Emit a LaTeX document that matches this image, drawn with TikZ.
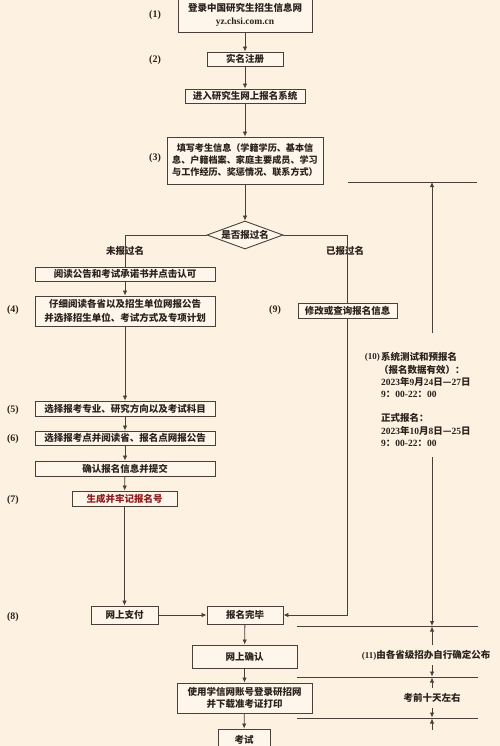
\documentclass[tikz,border=0pt]{standalone}
\usepackage{fontspec}
\setmainfont{Liberation Serif}
\newfontfamily\cjk{Noto Sans CJK SC}
\usetikzlibrary{arrows.meta,shapes.geometric}
\definecolor{bg}{HTML}{FDF2E2}
\definecolor{boxbg}{HTML}{FEF6EA}
\definecolor{ln}{HTML}{4A4038}
\definecolor{tx}{HTML}{2A221C}
\definecolor{rd}{HTML}{8E1B1B}
\newcommand\rmx[1]{{\rmfamily #1}}
\tikzset{
 box/.style={draw=ln, line width=0.9pt, fill=boxbg, inner sep=0pt, text=tx,
   font=\cjk\bfseries\fontsize{9.5}{12.5}\selectfont, align=center},
 conn/.style={draw=ln, line width=0.8pt},
 arr/.style={conn, -{Latex[length=5pt,width=4.5pt]}},
 lbl/.style={font=\bfseries\fontsize{10}{12}\selectfont, text=tx, inner sep=0pt},
 zh/.style={font=\cjk\bfseries\fontsize{9.5}{12}\selectfont, text=tx, inner sep=0pt},
}
\begin{document}
\begin{tikzpicture}[x=1pt,y=-1pt]
\fill[bg] (0,0) rectangle (500,746);
\useasboundingbox (0,0) rectangle (500,746);

% main column
\node[box, minimum width=134, minimum height=34] (b1) at (245,15) {登录中国研究生招生信息网\\\rmx{yz.chsi.com.cn}};
\node[box, minimum width=76, minimum height=14] (b2) at (245,59) {实名注册};
\node[box, minimum width=120, minimum height=14] (b3) at (245,96) {进入研究生网上报名系统};
\node[box, minimum width=156, minimum height=47, font=\cjk\bfseries\fontsize{9.1}{12}\selectfont] (b4) at (245,160.5) {填写考生信息（学籍学历、基本信\\息、户籍档案、家庭主要成员、学习\\与工作经历、奖惩情况、联系方式）};
\node[box, shape=diamond, minimum width=76, minimum height=28, shape aspect=2.7] (dia) at (245,235) {是否报过名};

\node[zh] (nl) at (125,251) {未报过名};
\node[zh] (yl) at (345,251) {已报过名};

\node[box, minimum width=180, minimum height=14] (b5) at (125,274) {阅读公告和考试承诺书并点击认可};
\node[box, minimum width=180, minimum height=30, font=\cjk\bfseries\fontsize{9.5}{14}\selectfont] (b6) at (125,311) {仔细阅读各省以及招生单位网报公告\\并选择招生单位、考试方式及专项计划};
\node[box, minimum width=99, minimum height=15] (b9) at (347.5,310.5) {修改或查询报名信息};
\node[box, minimum width=180, minimum height=15] (b7) at (125,408.5) {选择报考专业、研究方向以及考试科目};
\node[box, minimum width=180, minimum height=14] (b8) at (125,438) {选择报考点并阅读省、报名点网报公告};
\node[box, minimum width=180, minimum height=15] (bc) at (125,468.5) {确认报名信息并提交};
\node[box, minimum width=105, minimum height=15, text=rd] (b10) at (124.5,498.5) {生成并牢记报名号};
\node[box, minimum width=67, minimum height=18] (pay) at (124.5,615) {网上支付};
\node[box, minimum width=76, minimum height=18] (done) at (245,615) {报名完毕};
\node[box, minimum width=105, minimum height=23] (conf) at (244.5,656.5) {网上确认};
\node[box, minimum width=135, minimum height=30] (prt) at (244.5,698) {使用学信网账号登录研招网\\并下载准考证打印};
\node[box, minimum width=52, minimum height=22] (exam) at (244,740) {考试};

% step labels
\node[lbl] (l1) at (155,15) {(1)};
\node[lbl] (l2) at (155,60) {(2)};
\node[lbl] (l3) at (155,158) {(3)};
\node[lbl] (l4) at (13,310) {(4)};
\node[lbl] (l5) at (13,410) {(5)};
\node[lbl] (l6) at (13,439) {(6)};
\node[lbl] (l7) at (13,500) {(7)};
\node[lbl] (l8) at (13,617) {(8)};
\node[lbl] (l9) at (275,310) {(9)};

% connectors
\draw[arr] (b1) -- (b2);
\draw[arr] (b2) -- (b3);
\draw[arr] (b3) -- (b4);
\draw[arr] (b4) -- (dia);
\draw[conn] (dia.west) -| (b5.north);
\draw[conn] (dia.east) -| (b9.north);
\draw[arr] (b9.south) |- (done.east);
\draw[arr] (b5) -- (b6);
\draw[arr] (b6) -- (b7);
\draw[arr] (b7) -- (b8);
\draw[arr] (b8) -- (bc);
\draw[arr] (bc) -- (b10);
\draw[arr] (b10) -- (pay);
\draw[arr] (pay) -- (done);
\draw[arr] (done) -- (conf);
\draw[arr] (conf) -- (prt);
\draw[arr] (prt) -- (exam);

% timeline
\coordinate (h0a) at (348,182); \coordinate (h0b) at (477,182);
\coordinate (h1a) at (297,626); \coordinate (h1b) at (478,626);
\coordinate (h2a) at (297,677); \coordinate (h2b) at (478,677);
\coordinate (h3a) at (297,718); \coordinate (h3b) at (478,718);
\draw[conn] (h0a) -- (h0b);
\draw[conn] (h1a) -- (h1b);
\draw[conn] (h2a) -- (h2b);
\draw[conn] (h3a) -- (h3b);
\coordinate (t0) at (432,182); \coordinate (t1) at (432,333);
\coordinate (t2) at (432,457); \coordinate (t3) at (432,626);
\draw[arr] (t1) -- (t0);
\draw[arr] (t2) -- (t3);
\coordinate (s1a) at (432,645); \coordinate (s1b) at (432,626.5);
\coordinate (s2a) at (432,665); \coordinate (s2b) at (432,676.5);
\coordinate (s3a) at (432,688); \coordinate (s3b) at (432,677.5);
\coordinate (s4a) at (432,708); \coordinate (s4b) at (432,717.5);
\coordinate (s5a) at (432,730); \coordinate (s5b) at (432,718.5);
\draw[arr] (s1a) -- (s1b);
\draw[arr] (s2a) -- (s2b);
\draw[arr] (s3a) -- (s3b);
\draw[arr] (s4a) -- (s4b);
\draw[arr] (s5a) -- (s5b);

\node[lbl, anchor=east, font=\bfseries\fontsize{9}{11}\selectfont] (l10) at (380,357) {(10)};
\node[zh, anchor=west] (t10a) at (381,357) {系统测试和预报名};
\node[zh, anchor=west] (t10b) at (379,369.5) {（报名数据有效）：};
\node[zh, anchor=west] (t10c) at (381,382) {\rmx{2023}年\rmx{9}月\rmx{24}日—\rmx{27}日};
\node[zh, anchor=west] (t10d) at (381,394) {\rmx{9}：\rmx{00-22}：\rmx{00}};
\node[zh, anchor=west] (t10e) at (381,418) {正式报名：};
\node[zh, anchor=west] (t10f) at (381,430.5) {\rmx{2023}年\rmx{10}月\rmx{8}日—\rmx{25}日};
\node[zh, anchor=west] (t10g) at (381,443) {\rmx{9}：\rmx{00-22}：\rmx{00}};

\node[zh] (t11) at (426,655) {{\rmfamily\fontsize{9}{11}\selectfont(11)}由各省级招办自行确定公布};
\node[zh] (t12) at (432,698) {考前十天左右};
\end{tikzpicture}
\end{document}
